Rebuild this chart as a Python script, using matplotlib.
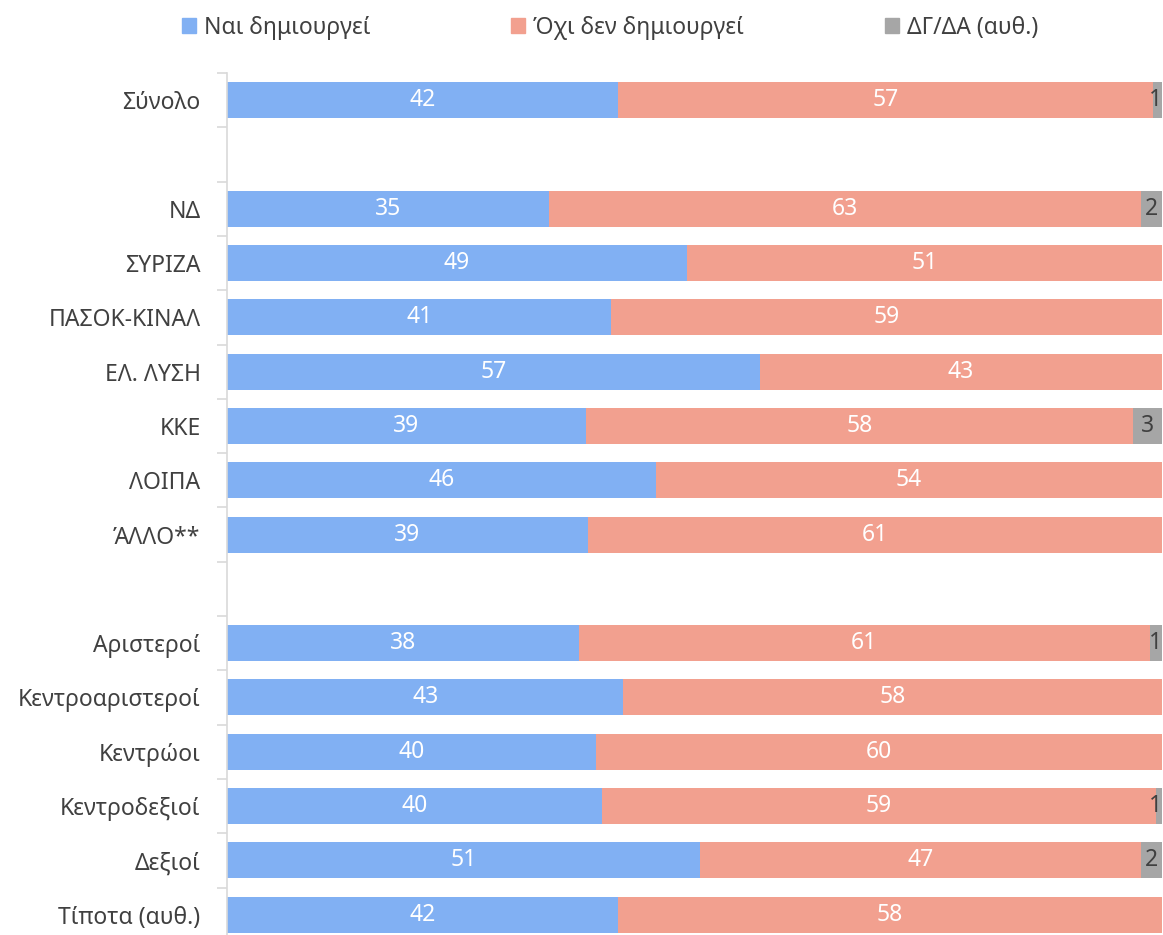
import matplotlib.pyplot as plt
from matplotlib.patches import Patch

plt.rcParams['font.family'] = ['Noto Sans', 'DejaVu Sans']

# Rows (None marks an empty slot between groups)
categories = ["Σύνολο", None, "ΝΔ", "ΣΥΡΙΖΑ", "ΠΑΣΟΚ-ΚΙΝΑΛ", "ΕΛ. ΛΥΣΗ", "ΚΚΕ",
              "ΛΟΙΠΑ", "ΆΛΛΟ**", None, "Αριστεροί", "Κεντροαριστεροί", "Κεντρώοι",
              "Κεντροδεξιοί", "Δεξιοί", "Τίποτα (αυθ.)"]
# Shares (bar lengths, %)
yes_share = [41.8, None, 34.4, 49.2, 41.1, 57.0, 38.4, 45.9, 38.6, None, 37.6, 42.4, 39.5, 40.1, 50.6, 41.8]
no_share = [57.2, None, 63.3, 50.8, 58.9, 43.0, 58.5, 54.1, 61.4, None, 61.1, 57.6, 60.5, 59.3, 47.2, 58.2]
dk_share = [1.0, None, 2.2, 0, 0, 0, 3.1, 0, 0, None, 1.3, 0, 0, 0.6, 2.2, 0]
# Printed labels
yes_lbl = [42, None, 35, 49, 41, 57, 39, 46, 39, None, 38, 43, 40, 40, 51, 42]
no_lbl = [57, None, 63, 51, 59, 43, 58, 54, 61, None, 61, 58, 60, 59, 47, 58]
dk_lbl = [1, None, 2, 0, 0, 0, 3, 0, 0, None, 1, 0, 0, 1, 2, 0]
series_names = ["Ναι δημιουργεί", "Όχι δεν δημιουργεί", "ΔΓ/ΔΑ (αυθ.)"]

colors = ["#81B0F3", "#F2A08F", "#A6A6A6"]
label_colors = ["white", "white", "#404040"]

fig = plt.figure(figsize=(11.63, 9.35), dpi=100)
ax = fig.add_axes([227 / 1163, 1 - 941.8 / 935, 935 / 1163, 868.8 / 935])

for i, cat in enumerate(categories):
    if cat is None:
        continue
    shares = [yes_share[i], no_share[i], dk_share[i]]
    labels = [yes_lbl[i], no_lbl[i], dk_lbl[i]]
    total = sum(shares)
    left = 0
    for j, v in enumerate(shares):
        if v == 0:
            continue
        w = v / total * 100
        ax.barh(i, w, left=left, height=0.663, color=colors[j], linewidth=0)
        # keep tiny end labels inside the picture
        ax.text(min(left + w / 2, 99.35), i, str(labels[j]), ha="center", va="center",
                fontsize=16.5, color=label_colors[j], clip_on=False)
        left += w

ax.set_xlim(0, 100)
ax.set_ylim(len(categories) - 0.5, -0.5)
ax.set_xticks([])
ax.set_yticks(range(len(categories)))
ax.set_yticklabels([c if c else "" for c in categories], fontsize=16.5, color="#404040")
ax.set_yticks([k - 0.5 for k in range(len(categories) + 1)], minor=True)
ax.tick_params(axis="y", which="major", length=0, pad=19)
ax.tick_params(axis="y", which="minor", length=7, width=1.2, color="#D9D9D9")
for s in ["top", "right", "bottom"]:
    ax.spines[s].set_visible(False)
ax.spines["left"].set_color("#D9D9D9")
ax.spines["left"].set_linewidth(1.2)

handles = [Patch(color=c) for c in colors]
fig.legend(handles, series_names, loc="upper center", bbox_to_anchor=(0.5245, 1.005),
           ncol=3, frameon=False, fontsize=16.5, handlelength=0.62, handleheight=0.62,
           handletextpad=0.35, columnspacing=6.15, labelcolor="#404040")

fig.savefig("out.png", dpi=100)
